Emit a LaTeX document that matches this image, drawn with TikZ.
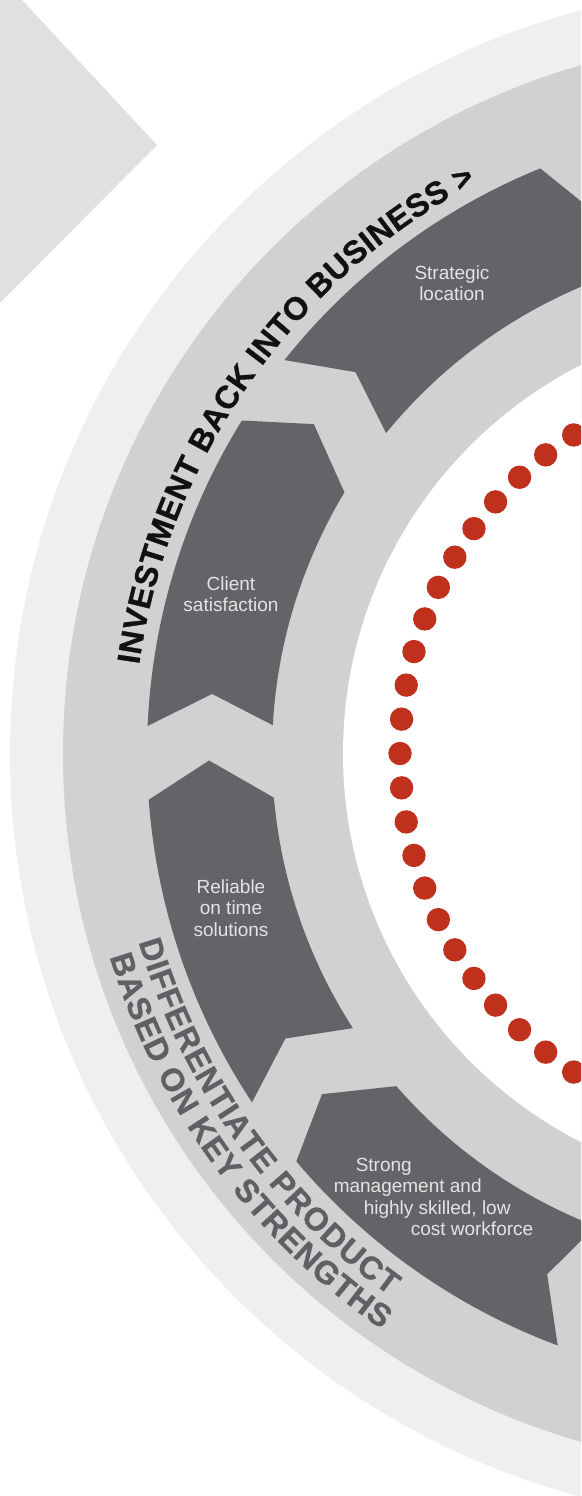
\documentclass[tikz,border=0pt]{standalone}
\usepackage{fontspec}
\setmainfont{Liberation Sans}
\newfontfamily\arcfam[FakeBold=1]{Liberation Sans Bold}
\usetikzlibrary{decorations.text}
\definecolor{ringout}{HTML}{EFEFEF}
\definecolor{ringmid}{HTML}{D1D1D1}
\definecolor{darkarrow}{HTML}{636468}
\definecolor{chevgray}{HTML}{E0E0E0}
\definecolor{dotred}{HTML}{C0311D}
\definecolor{lbltext}{HTML}{E4E4E4}
\definecolor{invtext}{HTML}{111111}
\definecolor{difftext}{HTML}{5F6064}
\tikzset{
  lbl/.style={text=lbltext, align=center, inner sep=0pt,
    font=\fontsize{19}{21.5}\selectfont},
  ringarrow/.style={fill=darkarrow},
  reddot/.style={fill=dotred}
}
\newcommand{\arcfont}{\arcfam\fontsize{32}{32}\selectfont}
\begin{document}
\begin{tikzpicture}[x=1pt,y=1pt]
\useasboundingbox (0,0) rectangle (581,-1496);
\clip (0,0) rectangle (581,-1496);
% chevron top left
\fill[chevgray] (0,0) -- (22,0) -- (157,-145) -- (0,-303) -- cycle;
\coordinate (C) at (779,-753.5);
\begin{scope}[shift={(C)}]
  \fill[ringout] (0,0) circle[radius=769pt];
  \fill[ringmid] (0,0) circle[radius=716pt];
  \fill[white] (0,0) circle[radius=436pt];
  \foreach \h in {76.2,112.2,148.2,184.2,220.2,256.2} {
    \fill[ringarrow] (\h:632pt) arc[start angle=\h, end angle=\h+29.3, radius=632pt]
      -- ({\h+25.8}:570pt) -- ({\h+28.6}:507pt)
      arc[start angle=\h+28.6, end angle=\h+0.8, radius=507pt]
      -- ({\h-3.5}:570pt) -- cycle;
  }
  \foreach \k in {-12,...,12} {
    \fill[reddot] ({180+5.2*\k}:379pt) circle[radius=11.7pt];
  }
  \path[decorate, decoration={text effects along path,
    text={INVESTMENT BACK INTO BUSINESS >},
    text effects/.cd, text along path, fit text to path,
    characters={font=\arcfont, text=invtext, inner sep=0pt, anchor=base}}]
    (172.1:646pt) arc[start angle=172.1, end angle=118, radius=646pt];
  \path[decorate, decoration={text effects along path,
    text={DIFFERENTIATE PRODUCT},
    text effects/.cd, text along path, fit text to path,
    characters={font=\arcfont, text=difftext, inner sep=0pt, anchor=base}}]
    (196.4:667.5pt) arc[start angle=196.4, end angle=234.3, radius=667.5pt];
  \path[decorate, decoration={text effects along path,
    text={BASED ON KEY STRENGTHS},
    text effects/.cd, text along path, fit text to path,
    characters={font=\arcfont, text=difftext, inner sep=0pt, anchor=base}}]
    (196.9:699.5pt) arc[start angle=196.9, end angle=235.4, radius=699.5pt];
\end{scope}
\node[lbl] (strat) at (452,-283) {Strategic\\location};
\node[lbl] (client) at (231,-594) {Client\\satisfaction};
\node[lbl] (reliable) at (231,-908) {Reliable\\on time\\solutions};
\node[lbl, align=left] (strong) at (433.5,-1197) {\hspace*{22pt}Strong\\management and\\\hspace*{30pt}highly skilled, low\\\hspace*{77pt}cost workforce};
\end{tikzpicture}
\end{document}
